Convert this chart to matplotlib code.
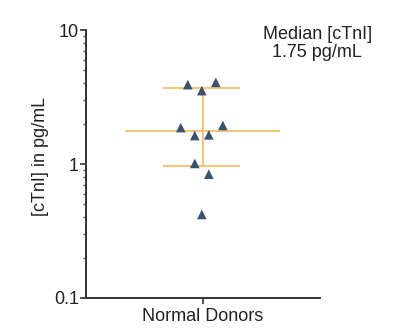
import numpy as np
import matplotlib.pyplot as plt
from matplotlib.ticker import LogLocator, FixedLocator

plt.rcParams['font.family'] = ['Liberation Sans', 'DejaVu Sans']

# cTnI measurements (pg/mL) for the normal donor group
ctni_values = [3.91, 4.07, 3.53, 1.87, 1.94, 1.63, 1.65, 1.01, 0.84, 0.42]
x_jitter = [-0.13, 0.11, -0.01, -0.19, 0.17, -0.07, 0.05, -0.07, 0.05, -0.01]
median_value = 1.75
quartiles = [0.97, 3.70]
group_label = 'Normal Donors'

fig = plt.figure(figsize=(3.93, 3.30), dpi=100)
ax = fig.add_axes([0.219, 0.097, 0.595, 0.812])

line_color = '#f2c47c'
marker_color = '#3d5270'

# median and interquartile bars
ax.hlines(median_value, -0.67, 0.66, color=line_color, lw=1.5, zorder=1)
ax.hlines(quartiles, -0.34, 0.32, color=line_color, lw=1.5, zorder=1)
ax.vlines(0, quartiles[0], quartiles[1], color=line_color, lw=1.5, zorder=1)

ax.scatter(x_jitter, ctni_values, marker='^', s=48, color=marker_color,
           edgecolors='none', zorder=3)

ax.set_yscale('log')
ax.set_ylim(0.1, 10)
ax.set_xlim(-1, 1)
ax.yaxis.set_major_locator(FixedLocator([0.1, 1, 10]))
ax.yaxis.set_minor_locator(LogLocator(base=10, subs=np.arange(2, 10)))
ax.yaxis.set_minor_formatter(plt.NullFormatter())
ax.set_yticklabels(['0.1', '1', '10'])
ax.set_xticks([0])
ax.set_xticklabels([group_label])

for side in ['top', 'right']:
    ax.spines[side].set_visible(False)
for side in ['left', 'bottom']:
    ax.spines[side].set_linewidth(1.4)
    ax.spines[side].set_color('#333333')

ax.tick_params(axis='both', which='major', labelsize=13, width=1.2,
               length=4, color='#333333', labelcolor='#222222')
ax.tick_params(axis='y', which='minor', width=1.0, length=2.5, color='#555555')
ax.tick_params(axis='y', pad=1)
ax.tick_params(axis='x', pad=3)

ax.set_ylabel('[cTnI] in pg/mL', fontsize=13, color='#222222')
ax.yaxis.set_label_coords(-0.158, 0.53)

fig.text(0.807, 0.868, 'Median [cTnI]\n1.75 pg/mL', ha='center', va='center',
         fontsize=13, color='#222222', linespacing=1.1)

fig.savefig('out.png', dpi=100)
